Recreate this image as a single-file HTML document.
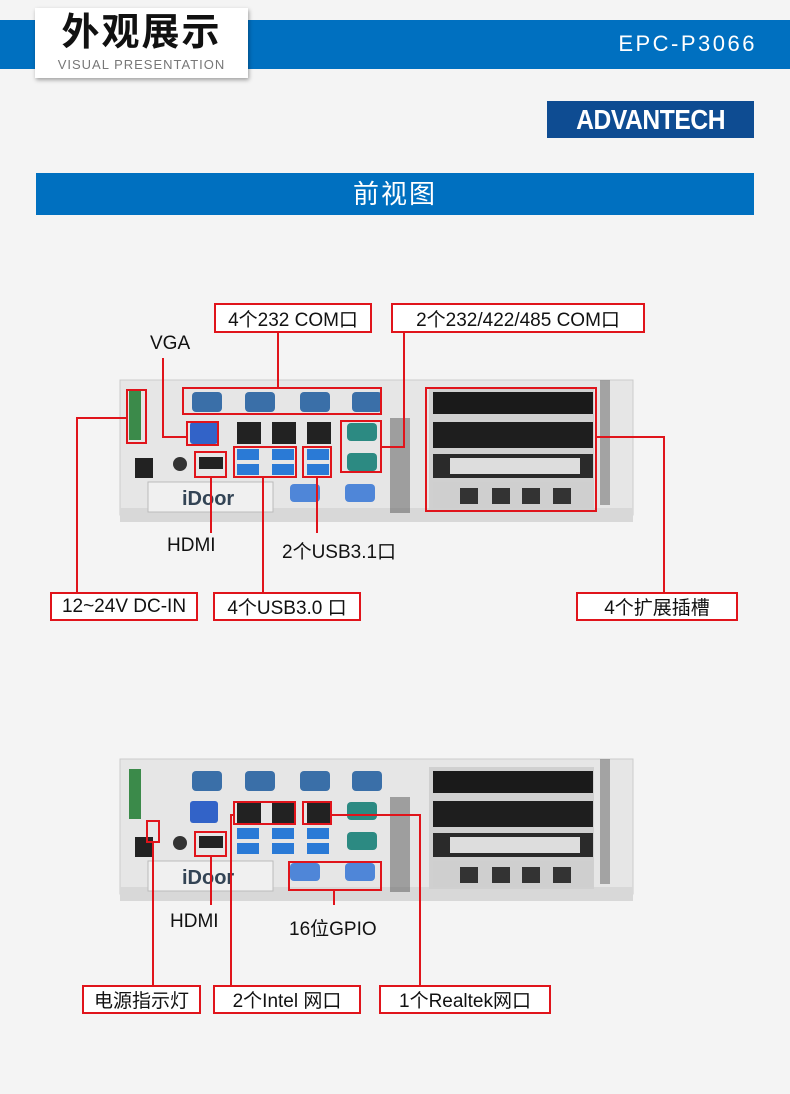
<!DOCTYPE html>
<html><head><meta charset="utf-8"><style>
body{margin:0;width:790px;height:1094px;background:#f4f4f4;position:relative;overflow:hidden;font-family:"Liberation Sans","Noto Sans CJK SC",sans-serif}
.abs{position:absolute}
.lbl{position:absolute;border:2px solid #e0141b;background:#fff;box-sizing:border-box;font-size:19px;color:#111;display:flex;align-items:center;justify-content:center;white-space:nowrap}
.t{position:absolute;font-size:19px;color:#111;white-space:nowrap}
</style></head><body>
<div class="abs" style="left:0;top:20px;width:790px;height:49px;background:#0070c0"></div>
<div class="abs" style="left:35px;top:8px;width:213px;height:70px;background:#fff;box-shadow:1px 2px 4px rgba(0,0,0,.35)"></div>
<div class="abs" style="left:35px;top:10px;width:213px;text-align:center;font-size:38px;font-weight:bold;color:#111;letter-spacing:2px;line-height:46px">外观展示</div>
<div class="abs" style="left:35px;top:57px;width:213px;text-align:center;font-size:13px;color:#777;letter-spacing:1px">VISUAL PRESENTATION</div>
<div class="abs" style="right:33px;top:31px;font-size:22px;color:#fff;letter-spacing:2.5px">EPC-P3066</div>
<div class="abs" style="left:547px;top:101px;width:207px;height:37px;background:#0e4c92;color:#fff;display:flex;align-items:center;justify-content:center"><span style="font-size:28px;font-weight:bold;display:inline-block;transform:scaleX(0.88);letter-spacing:-0.5px">ADVANTECH</span></div>
<div class="abs" style="left:36px;top:173px;width:718px;height:42px;background:#0070c0;color:#fff;font-size:26px;text-align:center;line-height:42px;letter-spacing:2px">前视图</div>

<svg class="abs" style="left:0;top:0" width="790" height="1094">
<defs>
<g id="dev">
 <rect x="0" y="2" width="513" height="135" fill="#e6e6e6" stroke="#ccc"/>
 <rect x="0" y="130" width="513" height="14" fill="#d8d8d8"/>
 <rect x="9" y="12" width="12" height="50" fill="#3b8a4a"/>
 <rect x="15" y="80" width="18" height="20" fill="#222"/>
 <g fill="#3a6fa8"><rect x="72" y="14" width="30" height="20" rx="4"/><rect x="125" y="14" width="30" height="20" rx="4"/><rect x="180" y="14" width="30" height="20" rx="4"/><rect x="232" y="14" width="30" height="20" rx="4"/></g>
 <rect x="70" y="44" width="28" height="22" rx="3" fill="#3263c8"/>
 <g fill="#222"><rect x="117" y="44" width="24" height="22"/><rect x="152" y="44" width="24" height="22"/><rect x="187" y="44" width="24" height="22"/></g>
 <g fill="#2a7ad6"><rect x="117" y="71" width="22" height="11"/><rect x="117" y="86" width="22" height="11"/><rect x="152" y="71" width="22" height="11"/><rect x="152" y="86" width="22" height="11"/><rect x="187" y="71" width="22" height="11"/><rect x="187" y="86" width="22" height="11"/></g>
 <rect x="79" y="79" width="24" height="12" fill="#222"/>
 <g fill="#2c8a82"><rect x="227" y="45" width="30" height="18" rx="4"/><rect x="227" y="75" width="30" height="18" rx="4"/></g>
 <g fill="#4f86d8"><rect x="170" y="106" width="30" height="18" rx="4"/><rect x="225" y="106" width="30" height="18" rx="4"/></g>
 <rect x="28" y="104" width="125" height="30" fill="#f0f0f0" stroke="#bbb"/>
 <text x="62" y="127" font-size="20" font-weight="bold" fill="#345" font-family="Liberation Sans">iDoor</text>
 <circle cx="60" cy="86" r="7" fill="#333"/>
 <g fill="#555"><rect x="270" y="40" width="20" height="95" opacity=".5"/></g>
 <rect x="309" y="10" width="165" height="122" fill="#d0d0d0"/>
 <rect x="313" y="14" width="160" height="22" fill="#1a1a1a"/>
 <rect x="313" y="44" width="160" height="26" fill="#1e1e1e"/>
 <rect x="313" y="76" width="160" height="24" fill="#2a2a2a"/>
 <rect x="330" y="80" width="130" height="16" fill="#ddd"/>
 <rect x="313" y="104" width="160" height="26" fill="#cfcfcf"/>
 <g fill="#333"><rect x="340" y="110" width="18" height="16"/><rect x="372" y="110" width="18" height="16"/><rect x="402" y="110" width="18" height="16"/><rect x="433" y="110" width="18" height="16"/></g>
 <rect x="480" y="2" width="10" height="125" fill="#777" opacity=".6"/>
</g>
</defs>
<use href="#dev" x="120" y="378"/>
<use href="#dev" x="120" y="757"/>
<g fill="none" stroke="#e0141b" stroke-width="2">
 <rect x="127" y="390" width="19" height="53"/>
 <rect x="183" y="388" width="198" height="26"/>
 <rect x="187" y="422" width="31" height="23"/>
 <rect x="195" y="452" width="31" height="25"/>
 <rect x="234" y="447" width="62" height="30"/>
 <rect x="303" y="447" width="28" height="30"/>
 <rect x="341" y="421" width="40" height="51"/>
 <rect x="426" y="388" width="170" height="123"/>
 <polyline points="278,333 278,388"/>
 <polyline points="404,333 404,447 381,447"/>
 <polyline points="163,358 163,437 187,437"/>
 <polyline points="127,418 77,418 77,592"/>
 <polyline points="211,477 211,533"/>
 <polyline points="263,477 263,592"/>
 <polyline points="317,477 317,533"/>
 <polyline points="596,437 664,437 664,592"/>
 <rect x="147" y="821" width="12" height="21"/>
 <rect x="195" y="832" width="31" height="24"/>
 <rect x="234" y="802" width="61" height="22"/>
 <rect x="303" y="802" width="28" height="22"/>
 <rect x="289" y="862" width="92" height="28"/>
 <polyline points="153,842 153,985"/>
 <polyline points="234,815 231,815 231,985"/>
 <polyline points="331,815 420,815 420,985"/>
 <polyline points="211,856 211,905"/>
 <polyline points="334,890 334,905"/>
</g>
</svg>

<div class="lbl" style="left:214px;top:303px;width:158px;height:30px">4个232 COM口</div>
<div class="lbl" style="left:391px;top:303px;width:254px;height:30px">2个232/422/485 COM口</div>
<div class="t" style="left:150px;top:333px">VGA</div>
<div class="t" style="left:167px;top:535px">HDMI</div>
<div class="t" style="left:282px;top:537px">2个USB3.1口</div>
<div class="lbl" style="left:50px;top:592px;width:148px;height:29px">12~24V DC-IN</div>
<div class="lbl" style="left:213px;top:592px;width:148px;height:29px">4个USB3.0 口</div>
<div class="lbl" style="left:576px;top:592px;width:162px;height:29px">4个扩展插槽</div>
<div class="t" style="left:170px;top:911px">HDMI</div>
<div class="t" style="left:289px;top:914px">16位GPIO</div>
<div class="lbl" style="left:82px;top:985px;width:119px;height:29px">电源指示灯</div>
<div class="lbl" style="left:213px;top:985px;width:148px;height:29px">2个Intel 网口</div>
<div class="lbl" style="left:379px;top:985px;width:172px;height:29px">1个Realtek网口</div>
</body></html>
